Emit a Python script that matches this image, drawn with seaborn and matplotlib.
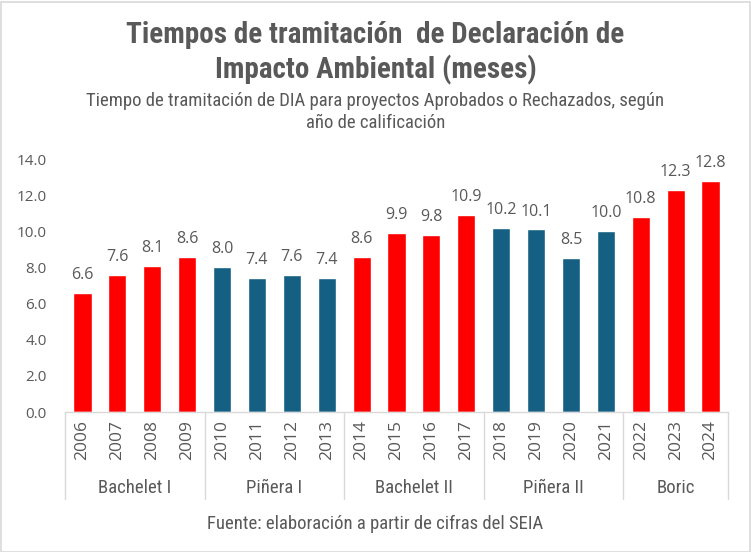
import matplotlib
matplotlib.use("Agg")
import matplotlib.pyplot as plt
from matplotlib import font_manager as fm
from matplotlib.patches import Rectangle
from matplotlib.lines import Line2D
import seaborn as sns
import pandas as pd

years = ["2006", "2007", "2008", "2009", "2010", "2011", "2012", "2013", "2014", "2015",
         "2016", "2017", "2018", "2019", "2020", "2021", "2022", "2023", "2024"]
values = [6.6, 7.6, 8.1, 8.6, 8.0, 7.4, 7.6, 7.4, 8.6, 9.9,
          9.8, 10.9, 10.2, 10.1, 8.5, 10.0, 10.8, 12.3, 12.8]
governments = ["Bachelet I"] * 4 + ["Piñera I"] * 4 + ["Bachelet II"] * 4 + ["Piñera II"] * 4 + ["Boric"] * 3
group_names = ["Bachelet I", "Piñera I", "Bachelet II", "Piñera II", "Boric"]
palette = {"Bachelet I": "#FF0000", "Piñera I": "#156082", "Bachelet II": "#FF0000",
           "Piñera II": "#156082", "Boric": "#FF0000"}

avail = {f.name for f in fm.fontManager.ttflist}
narrow = next((f for f in ["Liberation Sans Narrow", "Roboto Condensed", "Open Sans Condensed", "Roboto"] if f in avail), "DejaVu Sans")
regular = next((f for f in ["Open Sans", "Roboto", "Liberation Sans"] if f in avail), "DejaVu Sans")

df = pd.DataFrame({"year": years, "value": values, "gov": governments})

sns.set_theme(style="white")
plt.rcParams["font.family"] = [regular, "DejaVu Sans"]

fig = plt.figure(figsize=(7.51, 5.52), dpi=100)
ax = fig.add_axes([65 / 751, (552 - 412) / 552, (728 - 65) / 751, (412 - 159) / 552])

sns.barplot(data=df, x="year", y="value", hue="gov", palette=palette, dodge=False,
            width=0.52, legend=False, ax=ax, saturation=1)

gray = "#595959"
ax.set_ylim(0, 14)
ax.set_xlim(-0.5, len(years) - 0.5)
ax.set_yticks([0, 2, 4, 6, 8, 10, 12, 14])
ax.set_yticklabels([f"{v:.1f}" for v in [0, 2, 4, 6, 8, 10, 12, 14]], color=gray, fontsize=11)
ax.tick_params(axis="y", length=0, pad=13)
ax.set_xticks(range(len(years)))
ax.set_xticklabels(years, rotation=90, color=gray, fontsize=12.5)
ax.tick_params(axis="x", length=0, pad=6)
ax.set_xlabel("")
ax.set_ylabel("")
for s in ["left", "right", "top"]:
    ax.spines[s].set_visible(False)
ax.spines["bottom"].set_color("#D9D9D9")
ax.spines["bottom"].set_linewidth(1)

for i, v in enumerate(values):
    ax.text(i, v + 0.55, f"{v:.1f}", ha="center", va="bottom", fontsize=11.5, color=gray)

# group separators and labels
bounds = [-0.5]
start = 0
label_y = -(488 - 412) / (412 - 159)
for g in group_names:
    n = governments.count(g)
    center = start + (n - 1) / 2
    ax.text(center, label_y, g, transform=ax.get_xaxis_transform(), ha="center", va="center",
            fontsize=13.5, color=gray, family=[narrow, "DejaVu Sans"])
    start += n
    bounds.append(start - 0.5)
for b in bounds:
    ax.add_line(Line2D([b, b], [0, -(499 - 412) / (412 - 159)], transform=ax.get_xaxis_transform(),
                       color="#D9D9D9", lw=1, clip_on=False))

fig.text(0.5, 1 - 35 / 552, "Tiempos de tramitación  de Declaración de", ha="center", va="center",
         fontsize=21, fontweight="bold", color=gray, family=[narrow, "DejaVu Sans"])
fig.text(0.5, 1 - 70 / 552, "Impacto Ambiental (meses)", ha="center", va="center",
         fontsize=21, fontweight="bold", color=gray, family=[narrow, "DejaVu Sans"])
fig.text(0.5, 1 - 101 / 552, "Tiempo de tramitación de DIA para proyectos Aprobados o Rechazados, según",
         ha="center", va="center", fontsize=13.5, color=gray, family=[narrow, "DejaVu Sans"])
fig.text(0.5, 1 - 123 / 552, "año de calificación", ha="center", va="center", fontsize=13.5, color=gray,
         family=[narrow, "DejaVu Sans"])
fig.text(0.5, 1 - 524 / 552, "Fuente: elaboración a partir de cifras del SEIA", ha="center", va="center",
         fontsize=13.5, color=gray, family=[narrow, "DejaVu Sans"])

fig.patches.append(Rectangle((0.5 / 751, 0.5 / 552), 749 / 751, 550 / 552, transform=fig.transFigure,
                             fill=False, edgecolor="#D9D9D9", lw=1.2))

fig.savefig("out.png", dpi=100)
